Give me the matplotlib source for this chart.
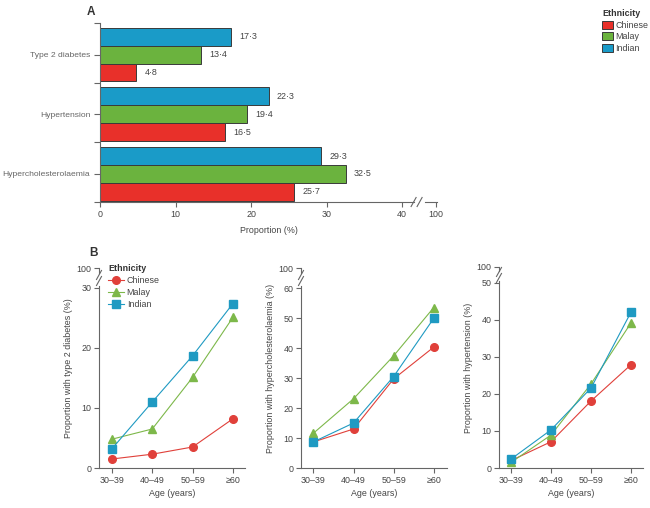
'''
Prevalence of type 2 diabetes, hypertension and hypercholesterolaemia by ethnicity
'''

import matplotlib
matplotlib.use('Agg')
import matplotlib.pyplot as plt
from matplotlib.patches import Patch
from matplotlib.lines import Line2D
from matplotlib.transforms import IdentityTransform

plt.rcParams['font.family'] = ['Liberation Sans', 'DejaVu Sans']

# panel A
conditions = ['Type 2 diabetes', 'Hypertension', 'Hypercholesterolaemia']
ethnicities = ['Chinese', 'Malay', 'Indian']
prev_chinese = [4.8, 16.5, 25.7]
prev_malay = [13.4, 19.4, 32.5]
prev_indian = [17.3, 22.3, 29.3]
a_ticks = [0, 10, 20, 30, 40]

# panel B
age_groups = ['30\u201339', '40\u201349', '50\u201359', '\u226560']
dm_chinese = [1.5, 2.3, 3.5, 8.2]
dm_malay = [4.8, 6.5, 15.1, 25.1]
dm_indian = [3.2, 11.0, 18.7, 27.4]
chol_chinese = [8.7, 13.0, 29.7, 40.3]
chol_malay = [11.6, 23.1, 37.4, 53.5]
chol_indian = [8.7, 15.0, 30.5, 49.9]
htn_chinese = [2.0, 7.1, 18.1, 27.9]
htn_malay = [1.5, 8.9, 22.7, 39.2]
htn_indian = [2.4, 10.3, 21.6, 42.1]

bar_cols = {'Chinese': '#e8302a', 'Malay': '#6bb33e', 'Indian': '#1a9bc8'}
line_cols = {'Chinese': '#e0403a', 'Malay': '#7db84a', 'Indian': '#1f9ac2'}
markers = {'Chinese': 'o', 'Malay': '^', 'Indian': 's'}
axcol = '#666666'
txtcol = '#444444'
fs = 6.4

W, H = 650, 508
fig = plt.figure(figsize=(W/100, H/100), dpi=100)


def axes_px(l, t, r, b):
    return fig.add_axes([l/W, 1 - b/H, (r - l)/W, (b - t)/H])


def slashes(ax, x, y, along='x'):
    # two little parallel slashes, centred at data point (x,y)
    cx, cy = ax.transData.transform((x, y))
    for off in (-3, 3):
        if along == 'x':
            ox, oy = cx + off, cy
        else:
            ox, oy = cx, cy + off
        fig.add_artist(Line2D([ox - 2.5, ox + 2.5], [oy - 4.5, oy + 4.5],
                              transform=IdentityTransform(), color=axcol, lw=0.8))


def style(ax):
    for s in ['top', 'right']:
        ax.spines[s].set_visible(False)
    for s in ['left', 'bottom']:
        ax.spines[s].set_color(axcol)
        ax.spines[s].set_linewidth(0.8)
    ax.tick_params(colors=axcol, labelcolor=txtcol, labelsize=fs, width=0.8, length=3.5, pad=2)


# ---------- A ----------
axA = axes_px(100, 23, 437, 202)
style(axA)
ypos = [i + 0.03 for i in range(len(conditions))]
bh = 0.3
for vals, eth, off in [(prev_indian, 'Indian', -bh), (prev_malay, 'Malay', 0), (prev_chinese, 'Chinese', bh)]:
    yy = [y + off for y in ypos]
    axA.barh(yy, vals, height=bh, color=bar_cols[eth], edgecolor='#3a3a3a', lw=0.7)
    for v, y in zip(vals, yy):
        axA.annotate(('%.1f' % v).replace('.', '\u00b7'), (v, y), xytext=(6, 0),
                     textcoords='offset points', va='center', ha='left',
                     fontsize=fs, color=txtcol)

axA.set_xlim(0, 44.6)
axA.set_ylim(2.5, -0.5)
axA.set_yticks(ypos)
axA.set_yticklabels(conditions)
axA.set_yticks([-0.5, 0.5, 1.5, 2.5], minor=True)
axA.tick_params(axis='y', which='both', length=4, width=0.8, colors=axcol, pad=3, labelsize=6.1)
axA.set_xticks(a_ticks + [44.5])
axA.set_xticklabels([str(t) for t in a_ticks] + ['100'])
axA.spines['bottom'].set_bounds(0, 41.5)
axA.plot([43.0, 44.6], [2.5, 2.5], color=axcol, lw=0.8, clip_on=False)
slashes(axA, 41.9, 2.5, along='x')
axA.set_xlabel('Proportion (%)', fontsize=fs, color=txtcol, labelpad=5)

fig.text(87/W, 1 - 12/H, 'A', fontsize=8.5, fontweight='bold', color='#333333', va='center')

handles = [Patch(facecolor=bar_cols[e], edgecolor='#3a3a3a', lw=0.7) for e in ethnicities]
legA = fig.legend(handles, ethnicities, loc='upper left', bbox_to_anchor=(602/W, 1 - 9/H),
                  frameon=False, fontsize=fs, title='Ethnicity', alignment='left',
                  title_fontproperties={'weight': 'bold', 'size': fs},
                  handlelength=1.2, handleheight=1.0, labelspacing=0.3,
                  handletextpad=0.3, borderpad=0, borderaxespad=0)
for t in legA.get_texts():
    t.set_color(txtcol)
legA.get_title().set_color('#333333')


# ---------- B ----------
def panel(ax, ch, ma, ind, ytop, y100, yticks, ylabel, xl):
    style(ax)
    x = list(range(len(age_groups)))
    for vals, eth in [(ch, 'Chinese'), (ma, 'Malay'), (ind, 'Indian')]:
        ax.plot(x, vals, color=line_cols[eth], lw=0.8, marker=markers[eth],
                ms=5.5 if eth != 'Malay' else 6, mec=line_cols[eth], label=eth)
    ax.set_xlim(xl)
    ax.set_ylim(0, y100)
    ax.set_xticks(x)
    ax.set_xticklabels(age_groups)
    ax.set_yticks(yticks + [y100])
    ax.set_yticklabels([str(t) for t in yticks] + ['100'])
    d = (y100 - ytop) / 20.0  # data units per pixel in the break zone
    ax.spines['left'].set_bounds(0, ytop + 2 * d)
    ax.plot([xl[0], xl[0]], [y100, y100 - 5 * d], color=axcol, lw=0.8, clip_on=False)
    slashes(ax, xl[0], ytop + 10 * d, along='y')
    ax.set_xlabel('Age (years)', fontsize=fs, color=txtcol, labelpad=3)
    ax.set_ylabel(ylabel, fontsize=fs, color=txtcol, labelpad=2.5)


ax1 = axes_px(99, 268, 245, 468)
panel(ax1, dm_chinese, dm_malay, dm_indian, 30, 33.33, [0, 10, 20, 30],
      'Proportion with type 2 diabetes (%)', (-0.32, 3.3))
ax2 = axes_px(301, 268, 447, 468)
panel(ax2, chol_chinese, chol_malay, chol_indian, 60, 66.67, [0, 10, 20, 30, 40, 50, 60],
      'Proportion with hypercholesterolaemia (%)', (-0.31, 3.33))
ax3 = axes_px(499, 267, 643, 468)
panel(ax3, htn_chinese, htn_malay, htn_indian, 50, 54.3, [0, 10, 20, 30, 40, 50],
      'Proportion with hypertension (%)', (-0.30, 3.3))

legB = ax1.legend(loc='upper left', bbox_to_anchor=(108/W, 1 - 264/H),
                  bbox_transform=fig.transFigure, frameon=False, fontsize=fs,
                  title='Ethnicity', alignment='left',
                  title_fontproperties={'weight': 'bold', 'size': fs},
                  handlelength=1.8, labelspacing=0.35, handletextpad=0.3,
                  borderpad=0, borderaxespad=0)
for t in legB.get_texts():
    t.set_color(txtcol)
legB.get_title().set_color('#333333')

fig.text(89/W, 1 - 253/H, 'B', fontsize=8.5, fontweight='bold', color='#333333', va='center')

fig.savefig('out.png', dpi=100)
